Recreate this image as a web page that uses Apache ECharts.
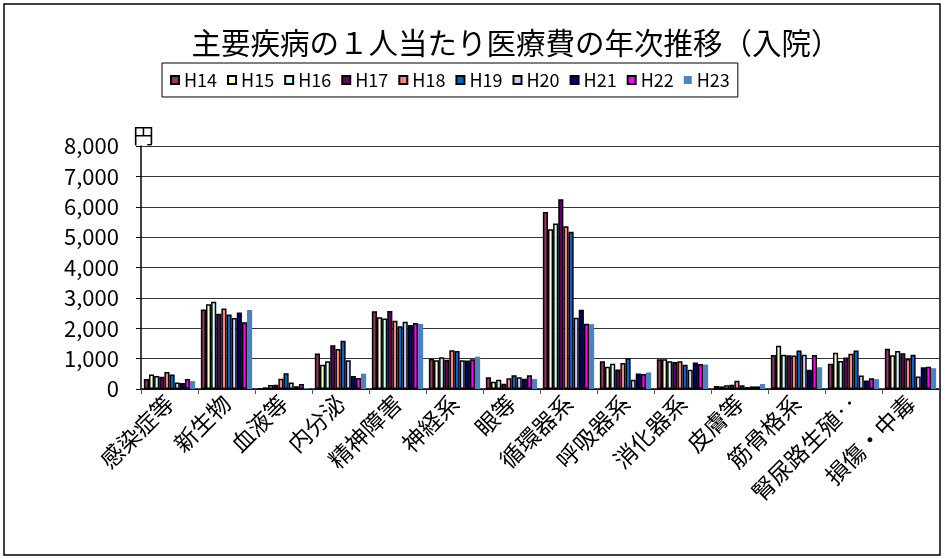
<!DOCTYPE html>
<html>
<head>
<meta charset="utf-8">
<script src="https://cdn.jsdelivr.net/npm/echarts@6/dist/echarts.min.js"></script>
<style>
html,body{margin:0;padding:0;background:#fff;}
#chart{width:945px;height:559px;}
</style>
</head>
<body>
<div id="chart"></div>
<script>
const titleText = '主要疾病の１人当たり医療費の年次推移（入院）';
const categories = ['感染症等','新生物','血液等','内分泌','精神障害','神経系','眼等','循環器系','呼吸器系','消化器系','皮膚等','筋骨格系','腎尿路生殖‥','損傷・中毒'];
const seriesNames = ['H14','H15','H16','H17','H18','H19','H20','H21','H22','H23'];
const H14 = [330, 2615, 20, 1165, 2560, 990, 385, 5830, 915, 980, 100, 1120, 835, 1325];
const H15 = [480, 2790, 55, 800, 2360, 945, 240, 5260, 730, 980, 85, 1425, 1195, 1110];
const H16 = [430, 2870, 130, 910, 2320, 1045, 305, 5445, 835, 915, 120, 1130, 925, 1250];
const H17 = [400, 2480, 140, 1440, 2570, 965, 175, 6245, 640, 890, 140, 1110, 1035, 1175];
const H18 = [560, 2650, 340, 1320, 2250, 1275, 350, 5355, 860, 915, 270, 1100, 1160, 990];
const H19 = [480, 2450, 520, 1590, 2065, 1250, 450, 5180, 1020, 795, 120, 1270, 1270, 1130];
const H20 = [210, 2340, 210, 945, 2210, 945, 385, 2345, 305, 630, 65, 1130, 445, 415];
const H21 = [200, 2520, 90, 430, 2110, 935, 340, 2605, 510, 870, 85, 630, 280, 715];
const H22 = [330, 2200, 165, 360, 2175, 980, 450, 2145, 490, 825, 85, 1120, 350, 730];
const H23 = [260, 2600, 30, 505, 2140, 1065, 330, 2135, 545, 805, 165, 715, 325, 685];
const yTicks = [0, 1000, 2000, 3000, 4000, 5000, 6000, 7000, 8000];

const allData = [H14, H15, H16, H17, H18, H19, H20, H21, H22, H23];
const colors = ['#993366','#FFFFCC','#CCFFFF','#660066','#FF8080','#0066CC','#CCCCFF','#000080','#FF00FF','#4F81BD'];

const font = "'Noto Sans CJK JP', sans-serif";
const chart = echarts.init(document.getElementById('chart'), null, {renderer: 'canvas'});

const series = seriesNames.map((n, i) => ({
  name: n,
  type: 'bar',
  data: allData[i],
  barGap: '0%',
  barCategoryGap: '10%',
  itemStyle: {
    color: colors[i],
    borderColor: i === 9 ? colors[i] : '#000',
    borderWidth: i === 9 ? 0 : 1.5
  }
}));

chart.setOption({
  animation: false,
  backgroundColor: '#fff',
  title: {
    text: titleText,
    left: 511, top: 23, textAlign: 'center',
    textStyle: {fontFamily: font, fontSize: 29.5, fontWeight: 'normal', color: '#000'}
  },
  legend: {
    data: seriesNames,
    left: 162, top: 63,
    orient: 'horizontal',
    padding: [8, 8],
    itemWidth: 8, itemHeight: 8, itemGap: 10,
    borderColor: '#000', borderWidth: 1,
    icon: 'rect',
    textStyle: {fontFamily: font, fontSize: 18, color: '#000'}
  },
  grid: {left: 141, right: 6, top: 146, bottom: 170, containLabel: false},
  xAxis: {
    type: 'category',
    data: categories,
    axisLine: {lineStyle: {color: '#000', width: 1.5}},
    axisTick: {show: true, length: 5, lineStyle: {color: '#555'}},
    axisLabel: {rotate: 45, interval: 0, margin: 10, fontFamily: font, fontSize: 23, color: '#000'}
  },
  yAxis: {
    type: 'value',
    min: yTicks[0], max: yTicks[yTicks.length - 1], interval: 1000,
    name: '円',
    nameLocation: 'end',
    nameGap: 0,
    nameTextStyle: {fontFamily: font, fontSize: 21, color: '#000', align: 'left', padding: [0, 0, 0, -8]},
    axisLine: {show: true, lineStyle: {color: '#000', width: 1.5}},
    axisTick: {show: true, length: 5, lineStyle: {color: '#000'}},
    splitLine: {show: true, lineStyle: {color: '#333', width: 1}},
    axisLabel: {
      fontFamily: font, fontSize: 22, color: '#000', margin: 22,
      formatter: v => v.toLocaleString('en-US')
    }
  },
  graphic: [{
    type: 'rect',
    shape: {x: 4, y: 4, width: 936, height: 551},
    style: {fill: 'none', stroke: '#000', lineWidth: 1.5},
    silent: true
  }],
  series: series
});
</script>
</body>
</html>
